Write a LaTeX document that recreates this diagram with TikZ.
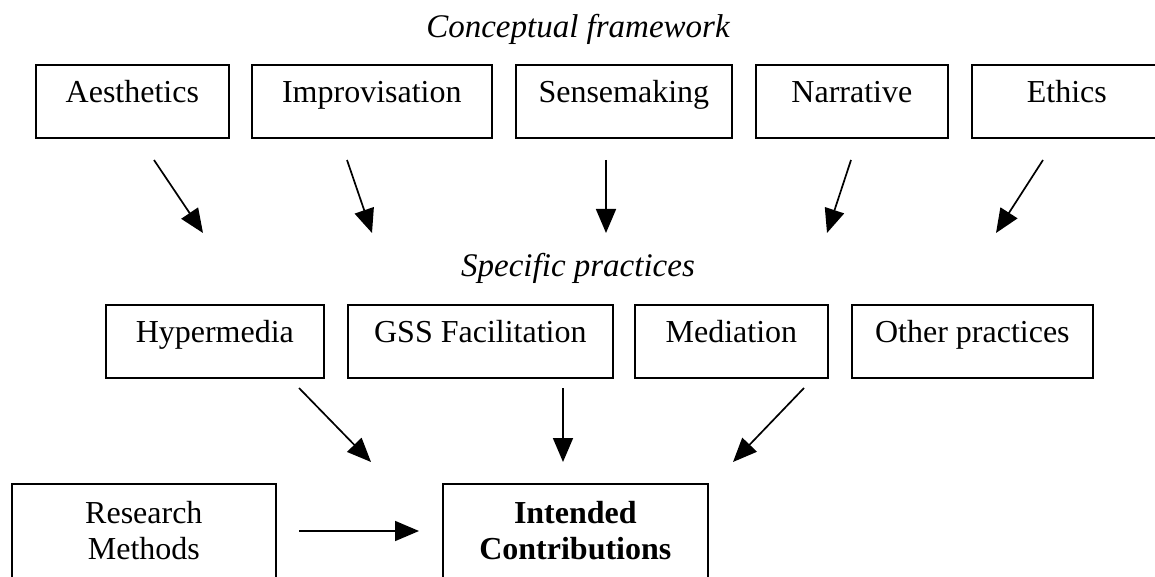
\documentclass[tikz,border=0pt]{standalone}
\usepackage{fontspec}
\setmainfont{Liberation Serif}
\usetikzlibrary{arrows.meta}
\begin{document}
\begin{tikzpicture}[x=1pt,y=-1pt,
  box/.style={draw, line width=1.7pt, anchor=north west, inner sep=0pt,
    minimum width=#1, minimum height=73pt, text height=38pt, text depth=35pt,
    font=\fontsize{32}{36}\selectfont},
  tallbox/.style={draw, line width=1.7pt, anchor=north west, inner sep=0pt,
    minimum width=#1, text height=40pt, text depth=90pt,
    font=\fontsize{32}{36}\selectfont},
  heading/.style={anchor=base, inner sep=0pt, font=\fontsize{33}{38}\selectfont\itshape},
  flow/.style={line width=1.7pt, -{Triangle[length=24pt,width=20pt]}}]
\useasboundingbox (0,0) rectangle (1155,577);
\clip (0,0) rectangle (1155,577);

% level titles
\node[heading] (hconcept) at (578,38) {Conceptual framework};
\node[heading] (hpractice) at (578,276) {Specific practices};

% conceptual framework
\node[box=193pt] (aes) at (35,64) {Aesthetics};
\node[box=240pt] (imp) at (251,64) {Improvisation};
\node[box=216pt] (sen) at (515,64) {Sensemaking};
\node[box=192pt] (nar) at (755,64) {Narrative};
\node[box=190pt] (eth) at (971,64) {Ethics};

% specific practices
\node[box=218pt] (hyp) at (105,304) {Hypermedia};
\node[box=265pt] (gss) at (347,304) {GSS Facilitation};
\node[box=193pt] (med) at (634,304) {Mediation};
\node[box=241pt] (oth) at (851,304) {Other practices};

% outcomes
\node[tallbox=264pt] (res) at (11,483)
  {\begin{tabular}[t]{@{}c@{}}Research\\Methods\end{tabular}};
\node[tallbox=265pt] (con) at (442,483)
  {\bfseries\begin{tabular}[t]{@{}c@{}}Intended\\Contributions\end{tabular}};

% arrow end points
\coordinate (a1s) at (154,160); \coordinate (a1e) at (203,233);
\coordinate (a2s) at (347,160); \coordinate (a2e) at (372,233);
\coordinate (a3s) at (606,160); \coordinate (a3e) at (606,233);
\coordinate (a4s) at (851,160); \coordinate (a4e) at (827,233);
\coordinate (a5s) at (1043,160); \coordinate (a5e) at (996,233);
\coordinate (b1s) at (299,388); \coordinate (b1e) at (371,462);
\coordinate (b2s) at (563,388); \coordinate (b2e) at (563,462);
\coordinate (b3s) at (804,388); \coordinate (b3e) at (733,462);
\coordinate (c1s) at (299,531); \coordinate (c1e) at (419,531);

\draw[flow] (a1s) -- (a1e);
\draw[flow] (a2s) -- (a2e);
\draw[flow] (a3s) -- (a3e);
\draw[flow] (a4s) -- (a4e);
\draw[flow] (a5s) -- (a5e);
\draw[flow] (b1s) -- (b1e);
\draw[flow] (b2s) -- (b2e);
\draw[flow] (b3s) -- (b3e);
\draw[flow] (c1s) -- (c1e);
\end{tikzpicture}
\end{document}
